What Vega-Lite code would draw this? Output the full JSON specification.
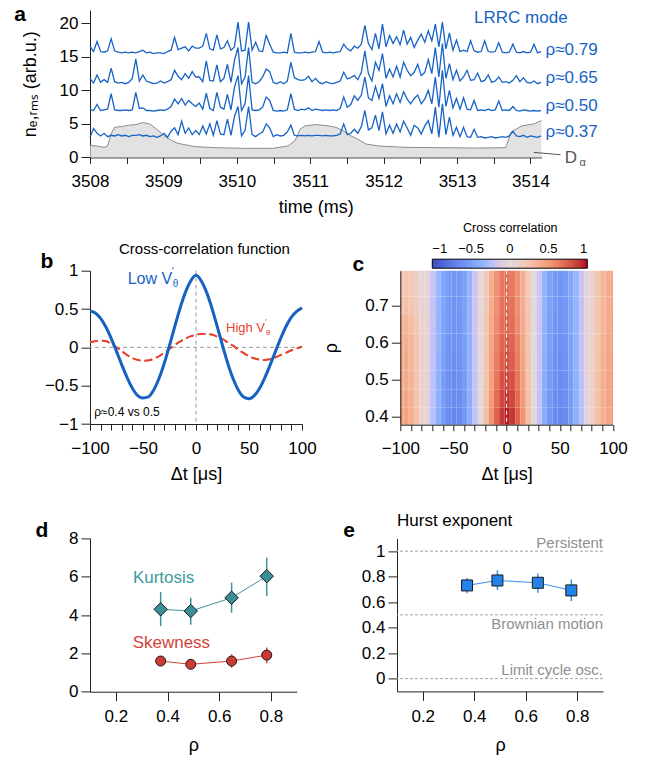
{
"$schema":"https://vega.github.io/schema/vega-lite/v6.json",
"padding":{"left":5,"top":0,"right":5,"bottom":3},
"background":"white",
"config":{"font":"Liberation Sans","view":{"stroke":null},
"axis":{"grid":false,"domainColor":"#222","tickColor":"#222","labelColor":"#000","titleColor":"#000","labelFontSize":17,"titleFontSize":18,"titleFontWeight":"normal","labelFlush":false,"labelOverlap":false,"labelBound":false,"tickSize":8,"labelFont":"Liberation Sans","titleFont":"Liberation Sans"},
"legend":{"labelFont":"Liberation Sans","titleFont":"Liberation Sans"},
"text":{"font":"Liberation Sans"}},
"datasets":{
"tr":[
{"t":3508.000,"a":3.0,"b":7.2,"c":11.8,"d":16.6},{"t":3508.048,"a":4.3,"b":7.0,"c":11.1,"d":15.8},{"t":3508.096,"a":3.6,"b":7.9,"c":12.3,"d":17.3},{"t":3508.144,"a":3.2,"b":7.0,"c":11.2,"d":15.8},{"t":3508.192,"a":3.6,"b":7.1,"c":11.6,"d":15.7},{"t":3508.240,"a":3.1,"b":7.2,"c":11.2,"d":15.9},{"t":3508.288,"a":3.3,"b":9.5,"c":13.3,"d":17.7},{"t":3508.336,"a":3.2,"b":7.1,"c":11.3,"d":15.9},{"t":3508.384,"a":3.4,"b":7.0,"c":11.1,"d":15.7},{"t":3508.432,"a":3.2,"b":7.0,"c":11.2,"d":15.6},{"t":3508.480,"a":3.3,"b":7.1,"c":11.0,"d":15.7},{"t":3508.528,"a":3.1,"b":7.0,"c":11.2,"d":15.6},{"t":3508.576,"a":3.3,"b":7.1,"c":11.8,"d":15.7},{"t":3508.624,"a":3.3,"b":9.7,"c":14.7,"d":15.6},{"t":3508.672,"a":3.4,"b":7.3,"c":11.4,"d":15.8},{"t":3508.720,"a":3.2,"b":7.4,"c":12.3,"d":16.0},{"t":3508.768,"a":3.3,"b":7.0,"c":11.4,"d":15.6},{"t":3508.816,"a":3.1,"b":7.0,"c":11.2,"d":15.7},{"t":3508.864,"a":3.2,"b":6.9,"c":11.0,"d":15.5},{"t":3508.912,"a":3.0,"b":7.0,"c":11.1,"d":15.6},
{"t":3508.960,"a":3.2,"b":7.1,"c":11.4,"d":15.6},{"t":3509.008,"a":3.6,"b":7.0,"c":11.1,"d":15.5},{"t":3509.056,"a":3.0,"b":7.2,"c":11.3,"d":15.8},{"t":3509.104,"a":3.9,"b":7.6,"c":11.6,"d":16.0},{"t":3509.152,"a":4.4,"b":8.7,"c":13.0,"d":17.9},{"t":3509.200,"a":3.4,"b":8.0,"c":12.1,"d":16.1},{"t":3509.248,"a":5.4,"b":8.8,"c":11.6,"d":16.3},{"t":3509.296,"a":3.6,"b":7.8,"c":12.5,"d":16.5},{"t":3509.344,"a":4.4,"b":8.5,"c":11.8,"d":15.9},{"t":3509.392,"a":3.4,"b":8.0,"c":12.8,"d":16.6},{"t":3509.440,"a":4.0,"b":7.6,"c":12.0,"d":16.3},{"t":3509.488,"a":3.4,"b":8.1,"c":12.0,"d":16.3},{"t":3509.536,"a":4.7,"b":7.2,"c":11.3,"d":16.6},{"t":3509.584,"a":3.5,"b":9.6,"c":14.4,"d":18.5},{"t":3509.632,"a":5.0,"b":7.3,"c":11.5,"d":16.2},{"t":3509.680,"a":3.3,"b":7.0,"c":11.4,"d":16.0},{"t":3509.728,"a":5.5,"b":9.7,"c":13.8,"d":18.3},{"t":3509.776,"a":3.5,"b":7.5,"c":11.3,"d":16.2},{"t":3509.824,"a":3.4,"b":7.2,"c":11.8,"d":16.4},{"t":3509.872,"a":5.7,"b":9.4,"c":13.9,"d":17.4},
{"t":3509.920,"a":3.3,"b":7.1,"c":11.2,"d":16.0},{"t":3509.968,"a":6.1,"b":10.5,"c":14.5,"d":16.5},{"t":3510.016,"a":7.6,"b":12.2,"c":16.4,"d":20.2},{"t":3510.064,"a":3.2,"b":7.0,"c":11.0,"d":15.9},{"t":3510.112,"a":4.0,"b":8.0,"c":12.0,"d":16.0},{"t":3510.160,"a":7.6,"b":12.2,"c":16.4,"d":20.2},{"t":3510.208,"a":3.4,"b":7.1,"c":11.2,"d":16.0},{"t":3510.256,"a":3.1,"b":7.0,"c":11.0,"d":17.2},{"t":3510.304,"a":3.5,"b":7.1,"c":11.3,"d":15.9},{"t":3510.352,"a":3.8,"b":7.5,"c":12.0,"d":15.8},{"t":3510.400,"a":5.0,"b":9.0,"c":13.2,"d":18.2},{"t":3510.448,"a":4.4,"b":8.5,"c":12.8,"d":16.9},{"t":3510.496,"a":3.1,"b":7.0,"c":11.2,"d":15.7},{"t":3510.544,"a":3.4,"b":6.9,"c":11.0,"d":15.6},{"t":3510.592,"a":3.2,"b":7.0,"c":11.3,"d":15.6},{"t":3510.640,"a":3.3,"b":6.9,"c":11.0,"d":15.7},{"t":3510.688,"a":3.8,"b":7.1,"c":11.4,"d":15.6},{"t":3510.736,"a":4.8,"b":9.5,"c":14.2,"d":18.5},{"t":3510.784,"a":3.3,"b":7.2,"c":11.9,"d":15.7},{"t":3510.832,"a":3.2,"b":7.0,"c":11.6,"d":15.6},
{"t":3510.880,"a":3.3,"b":7.2,"c":11.5,"d":15.6},{"t":3510.928,"a":3.2,"b":7.1,"c":11.6,"d":15.7},{"t":3510.976,"a":3.3,"b":7.4,"c":12.1,"d":15.6},{"t":3511.024,"a":3.2,"b":7.0,"c":11.3,"d":15.7},{"t":3511.072,"a":3.3,"b":7.2,"c":11.8,"d":15.8},{"t":3511.120,"a":3.3,"b":7.1,"c":11.2,"d":17.3},{"t":3511.168,"a":3.2,"b":7.0,"c":11.0,"d":15.7},{"t":3511.216,"a":3.3,"b":7.1,"c":11.3,"d":15.6},{"t":3511.264,"a":3.2,"b":7.0,"c":11.1,"d":15.7},{"t":3511.312,"a":3.2,"b":7.1,"c":11.0,"d":15.6},{"t":3511.360,"a":3.3,"b":7.0,"c":11.2,"d":15.7},{"t":3511.408,"a":3.5,"b":7.3,"c":11.4,"d":15.8},{"t":3511.456,"a":5.0,"b":9.0,"c":12.7,"d":16.9},{"t":3511.504,"a":3.4,"b":7.5,"c":11.7,"d":16.2},{"t":3511.552,"a":3.6,"b":7.9,"c":11.9,"d":15.9},{"t":3511.600,"a":4.2,"b":9.2,"c":12.2,"d":16.6},{"t":3511.648,"a":3.6,"b":8.5,"c":11.6,"d":16.3},{"t":3511.696,"a":4.6,"b":9.3,"c":12.7,"d":16.9},{"t":3511.744,"a":7.0,"b":12.0,"c":15.9,"d":19.7},{"t":3511.792,"a":4.1,"b":8.9,"c":12.5,"d":17.0},
{"t":3511.840,"a":4.4,"b":8.5,"c":11.4,"d":16.1},{"t":3511.888,"a":6.3,"b":10.6,"c":14.2,"d":18.5},{"t":3511.936,"a":4.0,"b":8.8,"c":13.0,"d":16.2},{"t":3511.984,"a":6.8,"b":11.0,"c":15.5,"d":19.9},{"t":3512.032,"a":3.5,"b":7.6,"c":11.8,"d":16.5},{"t":3512.080,"a":4.8,"b":9.2,"c":13.2,"d":18.2},{"t":3512.128,"a":3.6,"b":8.0,"c":12.0,"d":17.0},{"t":3512.176,"a":5.0,"b":9.5,"c":13.6,"d":18.0},{"t":3512.224,"a":3.8,"b":8.2,"c":12.0,"d":16.8},{"t":3512.272,"a":5.4,"b":9.8,"c":14.2,"d":19.0},{"t":3512.320,"a":4.4,"b":8.7,"c":13.0,"d":16.9},{"t":3512.368,"a":3.3,"b":8.0,"c":12.2,"d":17.9},{"t":3512.416,"a":4.8,"b":8.8,"c":12.7,"d":16.4},{"t":3512.464,"a":4.4,"b":9.3,"c":13.9,"d":17.5},{"t":3512.512,"a":3.5,"b":8.0,"c":12.2,"d":18.4},{"t":3512.560,"a":4.7,"b":8.7,"c":12.7,"d":17.2},{"t":3512.608,"a":5.5,"b":10.0,"c":14.6,"d":18.9},{"t":3512.656,"a":3.5,"b":8.0,"c":12.5,"d":17.4},{"t":3512.704,"a":7.5,"b":12.0,"c":16.4,"d":19.9},{"t":3512.752,"a":3.0,"b":7.5,"c":12.0,"d":16.5},
{"t":3512.800,"a":8.0,"b":13.0,"c":17.0,"d":20.2},{"t":3512.848,"a":3.4,"b":7.6,"c":11.8,"d":16.2},{"t":3512.896,"a":6.0,"b":10.0,"c":14.0,"d":18.6},{"t":3512.944,"a":3.3,"b":7.4,"c":11.6,"d":16.0},{"t":3512.992,"a":4.5,"b":8.8,"c":13.0,"d":17.5},{"t":3513.040,"a":3.1,"b":7.2,"c":11.4,"d":15.8},{"t":3513.088,"a":4.5,"b":8.9,"c":12.0,"d":16.0},{"t":3513.136,"a":3.1,"b":7.2,"c":13.0,"d":15.8},{"t":3513.184,"a":3.0,"b":7.1,"c":11.5,"d":17.4},{"t":3513.232,"a":4.2,"b":8.5,"c":11.6,"d":15.9},{"t":3513.280,"a":3.0,"b":7.0,"c":12.6,"d":15.7},{"t":3513.328,"a":3.1,"b":7.1,"c":11.3,"d":15.8},{"t":3513.376,"a":2.9,"b":7.0,"c":11.5,"d":17.4},{"t":3513.424,"a":3.0,"b":7.2,"c":12.3,"d":15.8},{"t":3513.472,"a":3.1,"b":7.0,"c":11.2,"d":15.7},{"t":3513.520,"a":2.9,"b":7.1,"c":11.4,"d":15.8},{"t":3513.568,"a":3.0,"b":8.4,"c":12.0,"d":17.1},{"t":3513.616,"a":3.1,"b":7.0,"c":11.2,"d":15.7},{"t":3513.664,"a":3.0,"b":7.1,"c":11.3,"d":15.6},{"t":3513.712,"a":3.2,"b":7.0,"c":11.1,"d":15.7},
{"t":3513.760,"a":3.9,"b":7.6,"c":11.5,"d":16.9},{"t":3513.808,"a":3.2,"b":7.0,"c":12.2,"d":15.7},{"t":3513.856,"a":3.1,"b":6.9,"c":11.3,"d":15.6},{"t":3513.904,"a":3.3,"b":7.1,"c":11.9,"d":15.8},{"t":3513.952,"a":3.0,"b":7.0,"c":11.2,"d":15.6},{"t":3514.000,"a":3.2,"b":6.9,"c":11.1,"d":15.7},{"t":3514.048,"a":3.1,"b":7.0,"c":11.4,"d":16.9},{"t":3514.096,"a":3.0,"b":6.9,"c":11.0,"d":15.6},{"t":3514.144,"a":3.2,"b":7.0,"c":11.2,"d":15.8}
],
"da":[
{"t":3508.000,"v":1.8},{"t":3508.096,"v":1.7},{"t":3508.191,"v":1.5},{"t":3508.239,"v":1.7},{"t":3508.287,"v":3.5},{"t":3508.335,"v":4.5},{"t":3508.430,"v":4.6},{"t":3508.526,"v":4.8},{"t":3508.622,"v":4.9},{"t":3508.717,"v":5.2},{"t":3508.813,"v":5.0},{"t":3508.909,"v":4.2},{"t":3509.004,"v":3.3},{"t":3509.100,"v":2.6},{"t":3509.196,"v":2.1},{"t":3509.291,"v":1.9},{"t":3509.435,"v":1.6},{"t":3509.722,"v":1.45},{"t":3510.104,"v":1.35},{"t":3510.487,"v":1.35},{"t":3510.697,"v":1.7},{"t":3510.793,"v":2.5},{"t":3510.860,"v":4.2},{"t":3510.927,"v":4.7},{"t":3511.080,"v":4.9},{"t":3511.252,"v":4.7},{"t":3511.347,"v":4.5},{"t":3511.443,"v":4.0},{"t":3511.539,"v":3.3},{"t":3511.634,"v":2.8},{"t":3511.759,"v":2.0},{"t":3511.931,"v":1.7},{"t":3512.304,"v":1.5},{"t":3512.782,"v":1.45},{"t":3513.260,"v":1.4},{"t":3513.662,"v":1.45},{"t":3513.738,"v":3.8},{"t":3513.882,"v":4.7},{"t":3514.045,"v":5.0},{"t":3514.150,"v":5.5}
],
"ccf":[
{"dt":-100,"low":0.475,"high":0.065},{"dt":-95,"low":0.449,"high":0.08},{"dt":-90,"low":0.378,"high":0.087},{"dt":-85,"low":0.265,"high":0.08},{"dt":-80,"low":0.117,"high":0.045},{"dt":-75,"low":-0.052,"high":0.0},{"dt":-70,"low":-0.228,"high":-0.05},{"dt":-65,"low":-0.394,"high":-0.10},{"dt":-60,"low":-0.533,"high":-0.14},{"dt":-55,"low":-0.629,"high":-0.165},{"dt":-50,"low":-0.66,"high":-0.175},{"dt":-45,"low":-0.647,"high":-0.17},{"dt":-40,"low":-0.559,"high":-0.15},{"dt":-35,"low":-0.41,"high":-0.115},{"dt":-30,"low":-0.21,"high":-0.07},{"dt":-25,"low":0.024,"high":-0.02},{"dt":-20,"low":0.273,"high":0.03},{"dt":-15,"low":0.512,"high":0.075},{"dt":-10,"low":0.717,"high":0.115},{"dt":-5,"low":0.866,"high":0.145},{"dt":0,"low":0.94,"high":0.165},{"dt":5,"low":0.866,"high":0.175},{"dt":10,"low":0.717,"high":0.175},{"dt":15,"low":0.512,"high":0.165},{"dt":20,"low":0.273,"high":0.14},{"dt":25,"low":0.024,"high":0.11},{"dt":30,"low":-0.21,"high":0.065},{"dt":35,"low":-0.41,"high":0.02},{"dt":40,"low":-0.559,"high":-0.03},{"dt":45,"low":-0.647,"high":-0.075},{"dt":50,"low":-0.669,"high":-0.115},{"dt":55,"low":-0.629,"high":-0.145},{"dt":60,"low":-0.533,"high":-0.16},{"dt":65,"low":-0.394,"high":-0.165},{"dt":70,"low":-0.228,"high":-0.155},{"dt":75,"low":-0.052,"high":-0.13},{"dt":80,"low":0.12,"high":-0.1},{"dt":85,"low":0.275,"high":-0.07},{"dt":90,"low":0.395,"high":-0.04},{"dt":95,"low":0.47,"high":-0.015},{"dt":100,"low":0.515,"high":0.01}
],
"hm":[
{"d":-102.5,"r":0.375,"v":0.48},{"d":-97.5,"r":0.375,"v":0.45},{"d":-92.5,"r":0.375,"v":0.38},{"d":-87.5,"r":0.375,"v":0.27},{"d":-82.5,"r":0.375,"v":0.12},{"d":-77.5,"r":0.375,"v":-0.05},{"d":-72.5,"r":0.375,"v":-0.23},{"d":-67.5,"r":0.375,"v":-0.39},{"d":-62.5,"r":0.375,"v":-0.53},{"d":-57.5,"r":0.375,"v":-0.63},{"d":-52.5,"r":0.375,"v":-0.67},{"d":-47.5,"r":0.375,"v":-0.65},{"d":-42.5,"r":0.375,"v":-0.56},{"d":-37.5,"r":0.375,"v":-0.41},{"d":-32.5,"r":0.375,"v":-0.21},{"d":-27.5,"r":0.375,"v":0.02},{"d":-22.5,"r":0.375,"v":0.28},{"d":-17.5,"r":0.375,"v":0.53},{"d":-12.5,"r":0.375,"v":0.74},{"d":-7.5,"r":0.375,"v":0.89},{"d":-2.5,"r":0.375,"v":0.97},{"d":2.5,"r":0.375,"v":0.89},{"d":7.5,"r":0.375,"v":0.74},{"d":12.5,"r":0.375,"v":0.53},{"d":17.5,"r":0.375,"v":0.28},{"d":22.5,"r":0.375,"v":0.02},{"d":27.5,"r":0.375,"v":-0.21},{"d":32.5,"r":0.375,"v":-0.41},{"d":37.5,"r":0.375,"v":-0.56},{"d":42.5,"r":0.375,"v":-0.65},{"d":47.5,"r":0.375,"v":-0.67},{"d":52.5,"r":0.375,"v":-0.63},{"d":57.5,"r":0.375,"v":-0.53},{"d":62.5,"r":0.375,"v":-0.39},{"d":67.5,"r":0.375,"v":-0.23},{"d":72.5,"r":0.375,"v":-0.05},{"d":77.5,"r":0.375,"v":0.12},{"d":82.5,"r":0.375,"v":0.27},{"d":87.5,"r":0.375,"v":0.38},{"d":92.5,"r":0.375,"v":0.45},{"d":97.5,"r":0.375,"v":0.48},
{"d":-102.5,"r":0.425,"v":0.45},{"d":-97.5,"r":0.425,"v":0.43},{"d":-92.5,"r":0.425,"v":0.36},{"d":-87.5,"r":0.425,"v":0.25},{"d":-82.5,"r":0.425,"v":0.11},{"d":-77.5,"r":0.425,"v":-0.05},{"d":-72.5,"r":0.425,"v":-0.22},{"d":-67.5,"r":0.425,"v":-0.38},{"d":-62.5,"r":0.425,"v":-0.52},{"d":-57.5,"r":0.425,"v":-0.61},{"d":-52.5,"r":0.425,"v":-0.65},{"d":-47.5,"r":0.425,"v":-0.63},{"d":-42.5,"r":0.425,"v":-0.54},{"d":-37.5,"r":0.425,"v":-0.40},{"d":-32.5,"r":0.425,"v":-0.20},{"d":-27.5,"r":0.425,"v":0.02},{"d":-22.5,"r":0.425,"v":0.26},{"d":-17.5,"r":0.425,"v":0.50},{"d":-12.5,"r":0.425,"v":0.70},{"d":-7.5,"r":0.425,"v":0.84},{"d":-2.5,"r":0.425,"v":0.91},{"d":2.5,"r":0.425,"v":0.84},{"d":7.5,"r":0.425,"v":0.70},{"d":12.5,"r":0.425,"v":0.50},{"d":17.5,"r":0.425,"v":0.26},{"d":22.5,"r":0.425,"v":0.02},{"d":27.5,"r":0.425,"v":-0.20},{"d":32.5,"r":0.425,"v":-0.40},{"d":37.5,"r":0.425,"v":-0.54},{"d":42.5,"r":0.425,"v":-0.63},{"d":47.5,"r":0.425,"v":-0.65},{"d":52.5,"r":0.425,"v":-0.61},{"d":57.5,"r":0.425,"v":-0.52},{"d":62.5,"r":0.425,"v":-0.38},{"d":67.5,"r":0.425,"v":-0.22},{"d":72.5,"r":0.425,"v":-0.05},{"d":77.5,"r":0.425,"v":0.12},{"d":82.5,"r":0.425,"v":0.27},{"d":87.5,"r":0.425,"v":0.38},{"d":92.5,"r":0.425,"v":0.45},{"d":97.5,"r":0.425,"v":0.48},
{"d":-102.5,"r":0.475,"v":0.43},{"d":-97.5,"r":0.475,"v":0.40},{"d":-92.5,"r":0.475,"v":0.34},{"d":-87.5,"r":0.475,"v":0.24},{"d":-82.5,"r":0.475,"v":0.11},{"d":-77.5,"r":0.475,"v":-0.05},{"d":-72.5,"r":0.475,"v":-0.22},{"d":-67.5,"r":0.475,"v":-0.37},{"d":-62.5,"r":0.475,"v":-0.51},{"d":-57.5,"r":0.475,"v":-0.60},{"d":-52.5,"r":0.475,"v":-0.64},{"d":-47.5,"r":0.475,"v":-0.61},{"d":-42.5,"r":0.475,"v":-0.53},{"d":-37.5,"r":0.475,"v":-0.39},{"d":-32.5,"r":0.475,"v":-0.20},{"d":-27.5,"r":0.475,"v":0.02},{"d":-22.5,"r":0.475,"v":0.25},{"d":-17.5,"r":0.475,"v":0.47},{"d":-12.5,"r":0.475,"v":0.66},{"d":-7.5,"r":0.475,"v":0.80},{"d":-2.5,"r":0.475,"v":0.86},{"d":2.5,"r":0.475,"v":0.80},{"d":7.5,"r":0.475,"v":0.66},{"d":12.5,"r":0.475,"v":0.47},{"d":17.5,"r":0.475,"v":0.25},{"d":22.5,"r":0.475,"v":0.02},{"d":27.5,"r":0.475,"v":-0.20},{"d":32.5,"r":0.475,"v":-0.39},{"d":37.5,"r":0.475,"v":-0.53},{"d":42.5,"r":0.475,"v":-0.61},{"d":47.5,"r":0.475,"v":-0.64},{"d":52.5,"r":0.475,"v":-0.60},{"d":57.5,"r":0.475,"v":-0.51},{"d":62.5,"r":0.475,"v":-0.37},{"d":67.5,"r":0.475,"v":-0.22},{"d":72.5,"r":0.475,"v":-0.05},{"d":77.5,"r":0.475,"v":0.12},{"d":82.5,"r":0.475,"v":0.27},{"d":87.5,"r":0.475,"v":0.38},{"d":92.5,"r":0.475,"v":0.45},{"d":97.5,"r":0.475,"v":0.48},
{"d":-102.5,"r":0.525,"v":0.42},{"d":-97.5,"r":0.525,"v":0.40},{"d":-92.5,"r":0.525,"v":0.33},{"d":-87.5,"r":0.525,"v":0.23},{"d":-82.5,"r":0.525,"v":0.11},{"d":-77.5,"r":0.525,"v":-0.05},{"d":-72.5,"r":0.525,"v":-0.21},{"d":-67.5,"r":0.525,"v":-0.36},{"d":-62.5,"r":0.525,"v":-0.49},{"d":-57.5,"r":0.525,"v":-0.58},{"d":-52.5,"r":0.525,"v":-0.62},{"d":-47.5,"r":0.525,"v":-0.60},{"d":-42.5,"r":0.525,"v":-0.51},{"d":-37.5,"r":0.525,"v":-0.38},{"d":-32.5,"r":0.525,"v":-0.19},{"d":-27.5,"r":0.525,"v":0.02},{"d":-22.5,"r":0.525,"v":0.24},{"d":-17.5,"r":0.525,"v":0.45},{"d":-12.5,"r":0.525,"v":0.63},{"d":-7.5,"r":0.525,"v":0.76},{"d":-2.5,"r":0.525,"v":0.83},{"d":2.5,"r":0.525,"v":0.76},{"d":7.5,"r":0.525,"v":0.63},{"d":12.5,"r":0.525,"v":0.45},{"d":17.5,"r":0.525,"v":0.24},{"d":22.5,"r":0.525,"v":0.02},{"d":27.5,"r":0.525,"v":-0.19},{"d":32.5,"r":0.525,"v":-0.38},{"d":37.5,"r":0.525,"v":-0.51},{"d":42.5,"r":0.525,"v":-0.60},{"d":47.5,"r":0.525,"v":-0.62},{"d":52.5,"r":0.525,"v":-0.58},{"d":57.5,"r":0.525,"v":-0.49},{"d":62.5,"r":0.525,"v":-0.36},{"d":67.5,"r":0.525,"v":-0.21},{"d":72.5,"r":0.525,"v":-0.05},{"d":77.5,"r":0.525,"v":0.11},{"d":82.5,"r":0.525,"v":0.26},{"d":87.5,"r":0.525,"v":0.37},{"d":92.5,"r":0.525,"v":0.44},{"d":97.5,"r":0.525,"v":0.47},
{"d":-102.5,"r":0.575,"v":0.40},{"d":-97.5,"r":0.575,"v":0.38},{"d":-92.5,"r":0.575,"v":0.32},{"d":-87.5,"r":0.575,"v":0.23},{"d":-82.5,"r":0.575,"v":0.10},{"d":-77.5,"r":0.575,"v":-0.05},{"d":-72.5,"r":0.575,"v":-0.21},{"d":-67.5,"r":0.575,"v":-0.35},{"d":-62.5,"r":0.575,"v":-0.48},{"d":-57.5,"r":0.575,"v":-0.57},{"d":-52.5,"r":0.575,"v":-0.60},{"d":-47.5,"r":0.575,"v":-0.58},{"d":-42.5,"r":0.575,"v":-0.50},{"d":-37.5,"r":0.575,"v":-0.37},{"d":-32.5,"r":0.575,"v":-0.19},{"d":-27.5,"r":0.575,"v":0.02},{"d":-22.5,"r":0.575,"v":0.23},{"d":-17.5,"r":0.575,"v":0.43},{"d":-12.5,"r":0.575,"v":0.60},{"d":-7.5,"r":0.575,"v":0.73},{"d":-2.5,"r":0.575,"v":0.79},{"d":2.5,"r":0.575,"v":0.73},{"d":7.5,"r":0.575,"v":0.60},{"d":12.5,"r":0.575,"v":0.43},{"d":17.5,"r":0.575,"v":0.23},{"d":22.5,"r":0.575,"v":0.02},{"d":27.5,"r":0.575,"v":-0.19},{"d":32.5,"r":0.575,"v":-0.37},{"d":37.5,"r":0.575,"v":-0.50},{"d":42.5,"r":0.575,"v":-0.58},{"d":47.5,"r":0.575,"v":-0.60},{"d":52.5,"r":0.575,"v":-0.57},{"d":57.5,"r":0.575,"v":-0.48},{"d":62.5,"r":0.575,"v":-0.35},{"d":67.5,"r":0.575,"v":-0.21},{"d":72.5,"r":0.575,"v":-0.05},{"d":77.5,"r":0.575,"v":0.11},{"d":82.5,"r":0.575,"v":0.25},{"d":87.5,"r":0.575,"v":0.36},{"d":92.5,"r":0.575,"v":0.43},{"d":97.5,"r":0.575,"v":0.45},
{"d":-102.5,"r":0.625,"v":0.36},{"d":-97.5,"r":0.625,"v":0.34},{"d":-92.5,"r":0.625,"v":0.28},{"d":-87.5,"r":0.625,"v":0.20},{"d":-82.5,"r":0.625,"v":0.09},{"d":-77.5,"r":0.625,"v":-0.05},{"d":-72.5,"r":0.625,"v":-0.20},{"d":-67.5,"r":0.625,"v":-0.35},{"d":-62.5,"r":0.625,"v":-0.47},{"d":-57.5,"r":0.625,"v":-0.55},{"d":-52.5,"r":0.625,"v":-0.59},{"d":-47.5,"r":0.625,"v":-0.57},{"d":-42.5,"r":0.625,"v":-0.49},{"d":-37.5,"r":0.625,"v":-0.36},{"d":-32.5,"r":0.625,"v":-0.18},{"d":-27.5,"r":0.625,"v":0.02},{"d":-22.5,"r":0.625,"v":0.22},{"d":-17.5,"r":0.625,"v":0.41},{"d":-12.5,"r":0.625,"v":0.57},{"d":-7.5,"r":0.625,"v":0.69},{"d":-2.5,"r":0.625,"v":0.75},{"d":2.5,"r":0.625,"v":0.69},{"d":7.5,"r":0.625,"v":0.57},{"d":12.5,"r":0.625,"v":0.41},{"d":17.5,"r":0.625,"v":0.22},{"d":22.5,"r":0.625,"v":0.02},{"d":27.5,"r":0.625,"v":-0.18},{"d":32.5,"r":0.625,"v":-0.36},{"d":37.5,"r":0.625,"v":-0.49},{"d":42.5,"r":0.625,"v":-0.57},{"d":47.5,"r":0.625,"v":-0.59},{"d":52.5,"r":0.625,"v":-0.55},{"d":57.5,"r":0.625,"v":-0.47},{"d":62.5,"r":0.625,"v":-0.35},{"d":67.5,"r":0.625,"v":-0.20},{"d":72.5,"r":0.625,"v":-0.05},{"d":77.5,"r":0.625,"v":0.11},{"d":82.5,"r":0.625,"v":0.24},{"d":87.5,"r":0.625,"v":0.35},{"d":92.5,"r":0.625,"v":0.41},{"d":97.5,"r":0.625,"v":0.44},
{"d":-102.5,"r":0.675,"v":0.29},{"d":-97.5,"r":0.675,"v":0.27},{"d":-92.5,"r":0.675,"v":0.23},{"d":-87.5,"r":0.675,"v":0.16},{"d":-82.5,"r":0.675,"v":0.07},{"d":-77.5,"r":0.675,"v":-0.04},{"d":-72.5,"r":0.675,"v":-0.20},{"d":-67.5,"r":0.675,"v":-0.34},{"d":-62.5,"r":0.675,"v":-0.46},{"d":-57.5,"r":0.675,"v":-0.54},{"d":-52.5,"r":0.675,"v":-0.58},{"d":-47.5,"r":0.675,"v":-0.56},{"d":-42.5,"r":0.675,"v":-0.48},{"d":-37.5,"r":0.675,"v":-0.35},{"d":-32.5,"r":0.675,"v":-0.18},{"d":-27.5,"r":0.675,"v":0.02},{"d":-22.5,"r":0.675,"v":0.21},{"d":-17.5,"r":0.675,"v":0.39},{"d":-12.5,"r":0.675,"v":0.55},{"d":-7.5,"r":0.675,"v":0.67},{"d":-2.5,"r":0.675,"v":0.72},{"d":2.5,"r":0.675,"v":0.67},{"d":7.5,"r":0.675,"v":0.55},{"d":12.5,"r":0.675,"v":0.39},{"d":17.5,"r":0.675,"v":0.21},{"d":22.5,"r":0.675,"v":0.02},{"d":27.5,"r":0.675,"v":-0.18},{"d":32.5,"r":0.675,"v":-0.35},{"d":37.5,"r":0.675,"v":-0.48},{"d":42.5,"r":0.675,"v":-0.56},{"d":47.5,"r":0.675,"v":-0.58},{"d":52.5,"r":0.675,"v":-0.54},{"d":57.5,"r":0.675,"v":-0.46},{"d":62.5,"r":0.675,"v":-0.34},{"d":67.5,"r":0.675,"v":-0.20},{"d":72.5,"r":0.675,"v":-0.04},{"d":77.5,"r":0.675,"v":0.11},{"d":82.5,"r":0.675,"v":0.24},{"d":87.5,"r":0.675,"v":0.34},{"d":92.5,"r":0.675,"v":0.40},{"d":97.5,"r":0.675,"v":0.43},
{"d":-102.5,"r":0.725,"v":0.25},{"d":-97.5,"r":0.725,"v":0.23},{"d":-92.5,"r":0.725,"v":0.20},{"d":-87.5,"r":0.725,"v":0.14},{"d":-82.5,"r":0.725,"v":0.06},{"d":-77.5,"r":0.725,"v":-0.04},{"d":-72.5,"r":0.725,"v":-0.19},{"d":-67.5,"r":0.725,"v":-0.33},{"d":-62.5,"r":0.725,"v":-0.45},{"d":-57.5,"r":0.725,"v":-0.53},{"d":-52.5,"r":0.725,"v":-0.57},{"d":-47.5,"r":0.725,"v":-0.55},{"d":-42.5,"r":0.725,"v":-0.48},{"d":-37.5,"r":0.725,"v":-0.35},{"d":-32.5,"r":0.725,"v":-0.18},{"d":-27.5,"r":0.725,"v":0.02},{"d":-22.5,"r":0.725,"v":0.20},{"d":-17.5,"r":0.725,"v":0.38},{"d":-12.5,"r":0.725,"v":0.54},{"d":-7.5,"r":0.725,"v":0.65},{"d":-2.5,"r":0.725,"v":0.71},{"d":2.5,"r":0.725,"v":0.65},{"d":7.5,"r":0.725,"v":0.54},{"d":12.5,"r":0.725,"v":0.38},{"d":17.5,"r":0.725,"v":0.20},{"d":22.5,"r":0.725,"v":0.02},{"d":27.5,"r":0.725,"v":-0.18},{"d":32.5,"r":0.725,"v":-0.35},{"d":37.5,"r":0.725,"v":-0.48},{"d":42.5,"r":0.725,"v":-0.55},{"d":47.5,"r":0.725,"v":-0.57},{"d":52.5,"r":0.725,"v":-0.53},{"d":57.5,"r":0.725,"v":-0.45},{"d":62.5,"r":0.725,"v":-0.33},{"d":67.5,"r":0.725,"v":-0.19},{"d":72.5,"r":0.725,"v":-0.04},{"d":77.5,"r":0.725,"v":0.10},{"d":82.5,"r":0.725,"v":0.23},{"d":87.5,"r":0.725,"v":0.33},{"d":92.5,"r":0.725,"v":0.40},{"d":97.5,"r":0.725,"v":0.42},
{"d":-102.5,"r":0.775,"v":0.24},{"d":-97.5,"r":0.775,"v":0.22},{"d":-92.5,"r":0.775,"v":0.19},{"d":-87.5,"r":0.775,"v":0.13},{"d":-82.5,"r":0.775,"v":0.05},{"d":-77.5,"r":0.775,"v":-0.04},{"d":-72.5,"r":0.775,"v":-0.19},{"d":-67.5,"r":0.775,"v":-0.33},{"d":-62.5,"r":0.775,"v":-0.45},{"d":-57.5,"r":0.775,"v":-0.53},{"d":-52.5,"r":0.775,"v":-0.56},{"d":-47.5,"r":0.775,"v":-0.55},{"d":-42.5,"r":0.775,"v":-0.48},{"d":-37.5,"r":0.775,"v":-0.35},{"d":-32.5,"r":0.775,"v":-0.18},{"d":-27.5,"r":0.775,"v":0.02},{"d":-22.5,"r":0.775,"v":0.20},{"d":-17.5,"r":0.775,"v":0.37},{"d":-12.5,"r":0.775,"v":0.53},{"d":-7.5,"r":0.775,"v":0.64},{"d":-2.5,"r":0.775,"v":0.70},{"d":2.5,"r":0.775,"v":0.64},{"d":7.5,"r":0.775,"v":0.53},{"d":12.5,"r":0.775,"v":0.37},{"d":17.5,"r":0.775,"v":0.20},{"d":22.5,"r":0.775,"v":0.02},{"d":27.5,"r":0.775,"v":-0.18},{"d":32.5,"r":0.775,"v":-0.35},{"d":37.5,"r":0.775,"v":-0.48},{"d":42.5,"r":0.775,"v":-0.55},{"d":47.5,"r":0.775,"v":-0.56},{"d":52.5,"r":0.775,"v":-0.53},{"d":57.5,"r":0.775,"v":-0.45},{"d":62.5,"r":0.775,"v":-0.33},{"d":67.5,"r":0.775,"v":-0.19},{"d":72.5,"r":0.775,"v":-0.04},{"d":77.5,"r":0.775,"v":0.10},{"d":82.5,"r":0.775,"v":0.23},{"d":87.5,"r":0.775,"v":0.33},{"d":92.5,"r":0.775,"v":0.39},{"d":97.5,"r":0.775,"v":0.42}
],
"kurt":[{"r":0.3735,"v":4.30,"lo":3.43,"hi":5.2},{"r":0.49,"v":4.21,"lo":3.5,"hi":4.9},{"r":0.648,"v":4.9,"lo":4.12,"hi":5.69},{"r":0.784,"v":6.03,"lo":4.99,"hi":6.99}],
"skew":[{"r":0.3735,"v":1.6,"lo":1.34,"hi":1.86},{"r":0.49,"v":1.43,"lo":1.17,"hi":1.69},{"r":0.648,"v":1.6,"lo":1.25,"hi":1.95},{"r":0.784,"v":1.91,"lo":1.48,"hi":2.3}],
"hurst":[{"r":0.372,"v":0.731,"lo":0.67,"hi":0.79},{"r":0.49,"v":0.77,"lo":0.695,"hi":0.85},{"r":0.647,"v":0.752,"lo":0.674,"hi":0.825},{"r":0.777,"v":0.692,"lo":0.608,"hi":0.778}]
},
"spacing":-4.3,
"resolve":{"scale":{"color":"independent"},"legend":{"color":"independent"}},
"vconcat":[
{"width":451.5,"height":147.4,
"resolve":{"axis":{"x":"independent","y":"independent"}},
"layer":[
{"data":{"name":"da"},"mark":{"type":"area","color":"#d6d6d6","line":{"color":"#8c8c8c","strokeWidth":1}},
"encoding":{"x":{"field":"t","type":"quantitative","scale":{"domain":[3508,3514.15],"nice":false,"zero":false},
"axis":{"orient":"bottom","values":[3508,3508.5,3509,3509.5,3510,3510.5,3511,3511.5,3512,3512.5,3513,3513.5,3514],"labelExpr":"datum.value % 1 === 0 ? format(datum.value,'d') : ''","title":"time (ms)","tickSize":6,"labelPadding":10,"titlePadding":9,"labelOverlap":false}},
"y":{"field":"v","type":"quantitative","scale":{"domain":[0,22],"nice":false},"axis":{"orient":"left","values":[0,5,10,15,20],"title":"nₑ,ᵣₘₛ (arb.u.)","tickSize":9,"labelPadding":3,"titlePadding":20,"labelOverlap":false}}}},
{"data":{"name":"tr"},"transform":[{"fold":["a","b","c","d"],"as":["s","v"]}],
"mark":{"type":"line","color":"#1763c6","strokeWidth":1.3},
"encoding":{"x":{"field":"t","type":"quantitative","axis":null},"y":{"field":"v","type":"quantitative","axis":null},"detail":{"field":"s"}}},
{"data":{"values":[{"t":3514.15,"y":16.1,"label":"ρ≈0.79"},{"t":3514.15,"y":11.9,"label":"ρ≈0.65"},{"t":3514.15,"y":7.6,"label":"ρ≈0.50"},{"t":3514.15,"y":3.8,"label":"ρ≈0.37"}]},
"mark":{"type":"text","align":"left","baseline":"middle","fontSize":17,"color":"#1763c6","dx":4},
"encoding":{"x":{"field":"t","type":"quantitative","axis":null},"y":{"field":"y","type":"quantitative","axis":null},"text":{"field":"label"}}},
{"data":{"values":[{}]},"mark":{"type":"text","text":"LRRC mode","align":"left","baseline":"middle","fontSize":17,"color":"#1763c6"},"encoding":{"x":{"datum":3513.232,"axis":null},"y":{"datum":20.8,"axis":null}}},
{"data":{"values":[{}]},"mark":{"type":"rule","color":"#555","strokeWidth":1},"encoding":{"x":{"datum":3514.046,"axis":null},"x2":{"datum":3514.409},"y":{"datum":0.75,"axis":null},"y2":{"datum":0.4}}},
{"data":{"values":[{}]},"mark":{"type":"text","text":"D","align":"left","baseline":"middle","fontSize":17,"color":"#555"},"encoding":{"x":{"datum":3514.466,"axis":null},"y":{"datum":-0.1,"axis":null}}},
{"data":{"values":[{}]},"mark":{"type":"text","text":"α","align":"left","baseline":"middle","fontSize":11,"color":"#555"},"encoding":{"x":{"datum":3514.667,"axis":null},"y":{"datum":-0.9,"axis":null}}},
{"data":{"values":[{}]},"mark":{"type":"text","text":"a","align":"center","baseline":"middle","fontSize":21,"fontWeight":"bold","dx":-70,"dy":5},"encoding":{"x":{"datum":3508,"axis":null},"y":{"datum":22,"axis":null}}},
{"data":{"values":[{}]},"mark":{"type":"text","text":".","fontSize":2,"opacity":0,"align":"left","baseline":"middle","dx":-85,"dy":-9},"encoding":{"x":{"datum":3508,"axis":null},"y":{"datum":22,"axis":null}}},
{"data":{"values":[{}]},"mark":{"type":"text","text":".","fontSize":2,"opacity":0,"align":"left","baseline":"middle","dx":-85,"dy":64},"encoding":{"x":{"datum":3508,"axis":null},"y":{"datum":0,"axis":null}}}
]},
{"hconcat":[
{"width":212,"height":153.3,
"resolve":{"axis":{"x":"independent","y":"independent"}},
"layer":[
{"data":{"name":"ccf"},"mark":{"type":"line","color":"#e5432e","strokeWidth":1.8,"strokeDash":[8,4],"interpolate":"monotone"},
"encoding":{"x":{"field":"dt","type":"quantitative","scale":{"domain":[-100,100],"nice":false},"axis":{"orient":"bottom","values":[-100,-90,-80,-70,-60,-50,-40,-30,-20,-10,0,10,20,30,40,50,60,70,80,90,100],"labelExpr":"datum.value % 50 === 0 ? format(datum.value,'d') : ''","title":"Δt [μs]","tickSize":6,"labelPadding":10,"titlePadding":9,"labelOverlap":false}},
"y":{"field":"high","type":"quantitative","scale":{"domain":[-1,1],"nice":false},"axis":{"orient":"left","values":[-1,-0.5,0,0.5,1],"labelExpr":"format(datum.value,'')","title":null,"tickSize":9,"labelPadding":3,"labelOverlap":false}}}},
{"data":{"values":[{}]},"mark":{"type":"rule","color":"#9a9a9a","strokeDash":[4,3],"strokeWidth":1},"encoding":{"y":{"datum":0,"axis":null}}},
{"data":{"values":[{}]},"mark":{"type":"rule","color":"#9a9a9a","strokeDash":[4,3],"strokeWidth":1},"encoding":{"x":{"datum":0,"axis":null}}},
{"data":{"name":"ccf"},"mark":{"type":"line","color":"#e5432e","strokeWidth":1.8,"strokeDash":[8,4],"interpolate":"monotone"},"encoding":{"x":{"field":"dt","type":"quantitative","axis":null},"y":{"field":"high","type":"quantitative","axis":null}}},
{"data":{"name":"ccf"},"mark":{"type":"line","color":"#1662c3","strokeWidth":3,"interpolate":"monotone"},"encoding":{"x":{"field":"dt","type":"quantitative","axis":null},"y":{"field":"low","type":"quantitative","axis":null}}},
{"data":{"values":[{}]},"mark":{"type":"text","text":"Low V","align":"left","baseline":"alphabetic","fontSize":16,"color":"#1662c3"},"encoding":{"x":{"datum":-64.5,"axis":null},"y":{"datum":0.826,"axis":null}}},
{"data":{"values":[{}]},"mark":{"type":"text","text":"′","align":"left","baseline":"alphabetic","fontSize":11,"color":"#1662c3","dx":44,"dy":-9},"encoding":{"x":{"datum":-64.5,"axis":null},"y":{"datum":0.826,"axis":null}}},
{"data":{"values":[{}]},"mark":{"type":"text","text":"θ","align":"left","baseline":"alphabetic","fontSize":10,"color":"#1662c3","dx":45,"dy":3},"encoding":{"x":{"datum":-64.5,"axis":null},"y":{"datum":0.826,"axis":null}}},
{"data":{"values":[{}]},"mark":{"type":"text","text":"High V","align":"left","baseline":"alphabetic","fontSize":13,"color":"#e5432e"},"encoding":{"x":{"datum":28.3,"axis":null},"y":{"datum":0.204,"axis":null}}},
{"data":{"values":[{}]},"mark":{"type":"text","text":"′","align":"left","baseline":"alphabetic","fontSize":9,"color":"#e5432e","dx":39,"dy":-7},"encoding":{"x":{"datum":28.3,"axis":null},"y":{"datum":0.204,"axis":null}}},
{"data":{"values":[{}]},"mark":{"type":"text","text":"θ","align":"left","baseline":"alphabetic","fontSize":8,"color":"#e5432e","dx":40,"dy":3},"encoding":{"x":{"datum":28.3,"axis":null},"y":{"datum":0.204,"axis":null}}},
{"data":{"values":[{}]},"mark":{"type":"text","text":"ρ≈0.4 vs 0.5","align":"left","baseline":"alphabetic","fontSize":12,"color":"#000"},"encoding":{"x":{"datum":-96,"axis":null},"y":{"datum":-0.89,"axis":null}}},
{"data":{"values":[{}]},"mark":{"type":"text","text":"Cross-correlation function","align":"center","baseline":"middle","fontSize":15,"color":"#000","dy":-22},"encoding":{"x":{"datum":8,"axis":null},"y":{"datum":1,"axis":null}}},
{"data":{"values":[{}]},"mark":{"type":"text","text":"b","align":"center","baseline":"middle","fontSize":21,"fontWeight":"bold","dx":-43,"dy":-9},"encoding":{"x":{"datum":-100,"axis":null},"y":{"datum":1,"axis":null}}},
{"data":{"values":[{}]},"mark":{"type":"text","text":".","fontSize":2,"opacity":0,"align":"left","baseline":"middle","dx":-85,"dy":-51},"encoding":{"x":{"datum":-100,"axis":null},"y":{"datum":1,"axis":null}}},
{"data":{"values":[{}]},"mark":{"type":"text","text":".","fontSize":2,"opacity":0,"align":"left","baseline":"middle","dx":-85,"dy":63},"encoding":{"x":{"datum":-100,"axis":null},"y":{"datum":-1,"axis":null}}}
]},
{"width":212.7,"height":154,
"layer":[
{"data":{"name":"hm"},"mark":{"type":"rect","clip":true},
"encoding":{"x":{"field":"d","type":"quantitative","bin":{"binned":true,"step":5},"scale":{"domain":[-100,100],"nice":false},"axis":{"values":[-100,-90,-80,-70,-60,-50,-40,-30,-20,-10,0,10,20,30,40,50,60,70,80,90,100],"labelExpr":"datum.value % 50 === 0 ? format(datum.value,'d') : ''","title":"Δt [μs]","tickSize":6,"labelPadding":10,"titlePadding":9,"labelOverlap":false}},
"y":{"field":"r","type":"quantitative","bin":{"binned":true,"step":0.05},"scale":{"domain":[0.378,0.793],"nice":false,"zero":false},"axis":{"values":[0.4,0.5,0.6,0.7],"format":".1f","title":"ρ","tickSize":9,"labelPadding":3,"titlePadding":24,"labelOverlap":false}},
"color":{"field":"v","type":"quantitative","scale":{"domain":[-1,-0.75,-0.5,-0.25,0,0.25,0.5,0.75,1],"range":["#3b4cc0","#5d7ce6","#7b9ff9","#a5c3fe","#dddcdc","#f4c4ab","#f49a7b","#de604d","#b40426"]},
"legend":{"orient":"none","legendX":32,"legendY":-49,"direction":"horizontal","gradientLength":155,"gradientThickness":9,"title":"Cross correlation","titleFontSize":12.5,"titleFontWeight":"normal","titleAnchor":"middle","titlePadding":25,"labelFontSize":13,"labelOffset":-25,"labelAlign":"center","format":".1~f","values":[-1,-0.5,0,0.5,1],"gradientStrokeColor":"#000","gradientStrokeWidth":1,"labelColor":"#000","titleColor":"#000"}}}},
{"data":{"values":[{}]},"mark":{"type":"rule","color":"white","strokeDash":[4,3],"strokeWidth":1},"encoding":{"x":{"datum":0}}},
{"data":{"values":[{}]},"mark":{"type":"text","text":"c","align":"center","baseline":"middle","fontSize":21,"fontWeight":"bold","dx":-42,"dy":-6},"encoding":{"x":{"datum":-100},"y":{"datum":0.793}}}
]}
],"spacing":98.3,"bounds":"flush","resolve":{"scale":{"color":"independent"},"legend":{"color":"independent"}}},
{"hconcat":[
{"width":206.7,"height":153.3,
"resolve":{"axis":{"x":"independent","y":"independent"}},
"layer":[
{"data":{"name":"kurt"},"mark":{"type":"line","color":"#3d949b","strokeWidth":1},
"encoding":{"x":{"field":"r","type":"quantitative","scale":{"domain":[0.1,0.9],"nice":false,"zero":false},"axis":{"orient":"bottom","values":[0.2,0.4,0.6,0.8],"format":".1f","title":"ρ","tickSize":9,"labelPadding":8,"titlePadding":12,"labelOverlap":false}},
"y":{"field":"v","type":"quantitative","scale":{"domain":[0,8],"nice":false},"axis":{"orient":"left","values":[0,2,4,6,8],"title":null,"tickSize":9,"labelPadding":3,"labelOverlap":false}}}},
{"data":{"name":"kurt"},"mark":{"type":"rule","color":"#3d949b","strokeWidth":1.5},"encoding":{"x":{"field":"r","type":"quantitative","axis":null},"y":{"field":"lo","type":"quantitative","axis":null},"y2":{"field":"hi"}}},
{"data":{"name":"kurt"},"mark":{"type":"point","shape":"diamond","filled":true,"size":180,"fill":"#3a8f96","stroke":"#1a1a1a","strokeWidth":1,"opacity":1},"encoding":{"x":{"field":"r","type":"quantitative","axis":null},"y":{"field":"v","type":"quantitative","axis":null}}},
{"data":{"name":"skew"},"mark":{"type":"line","color":"#d2433b","strokeWidth":1},"encoding":{"x":{"field":"r","type":"quantitative","axis":null},"y":{"field":"v","type":"quantitative","axis":null}}},
{"data":{"name":"skew"},"mark":{"type":"rule","color":"#d2433b","strokeWidth":1.5},"encoding":{"x":{"field":"r","type":"quantitative","axis":null},"y":{"field":"lo","type":"quantitative","axis":null},"y2":{"field":"hi"}}},
{"data":{"name":"skew"},"mark":{"type":"point","shape":"circle","filled":true,"size":100,"fill":"#cc3a33","stroke":"#1a1a1a","strokeWidth":1,"opacity":1},"encoding":{"x":{"field":"r","type":"quantitative","axis":null},"y":{"field":"v","type":"quantitative","axis":null}}},
{"data":{"values":[{}]},"mark":{"type":"text","text":"Kurtosis","align":"left","baseline":"middle","fontSize":17,"color":"#3d9aa0"},"encoding":{"x":{"datum":0.266,"axis":null},"y":{"datum":5.95,"axis":null}}},
{"data":{"values":[{}]},"mark":{"type":"text","text":"Skewness","align":"left","baseline":"middle","fontSize":17,"color":"#d2433b"},"encoding":{"x":{"datum":0.265,"axis":null},"y":{"datum":2.52,"axis":null}}},
{"data":{"values":[{}]},"mark":{"type":"text","text":"d","align":"center","baseline":"middle","fontSize":21,"fontWeight":"bold","dx":-48,"dy":-7},"encoding":{"x":{"datum":0.1,"axis":null},"y":{"datum":8,"axis":null}}},
{"data":{"values":[{}]},"mark":{"type":"text","text":".","fontSize":2,"opacity":0,"align":"left","baseline":"middle","dx":-85,"dy":-52.5},"encoding":{"x":{"datum":0.1,"axis":null},"y":{"datum":8,"axis":null}}}
]},
{"width":206,"height":153,
"resolve":{"axis":{"x":"independent","y":"independent"}},
"layer":[
{"data":{"name":"hurst"},"mark":{"type":"line","color":"#3a8ef0","strokeWidth":1},
"encoding":{"x":{"field":"r","type":"quantitative","scale":{"domain":[0.1,0.9],"nice":false,"zero":false},"axis":{"orient":"bottom","values":[0.2,0.4,0.6,0.8],"format":".1f","title":"ρ","tickSize":9,"labelPadding":8,"titlePadding":12,"labelOverlap":false}},
"y":{"field":"v","type":"quantitative","scale":{"domain":[-0.1,1.1],"nice":false,"zero":false},"axis":{"orient":"left","values":[0,0.2,0.4,0.6,0.8,1],"labelExpr":"format(datum.value,'')","title":null,"tickSize":9,"labelPadding":3,"labelOverlap":false}}}},
{"data":{"values":[{"y":1},{"y":0.5},{"y":0}]},"mark":{"type":"rule","color":"#a0a0a0","strokeDash":[3,2],"strokeWidth":1},
"encoding":{"y":{"field":"y","type":"quantitative","axis":null}}},
{"data":{"values":[{}]},"mark":{"type":"text","text":"Persistent","align":"right","baseline":"middle","fontSize":15,"color":"#8f8f8f"},"encoding":{"x":{"datum":0.9,"axis":null},"y":{"datum":1.066,"axis":null}}},
{"data":{"values":[{}]},"mark":{"type":"text","text":"Brownian motion","align":"right","baseline":"middle","fontSize":15,"color":"#8f8f8f"},"encoding":{"x":{"datum":0.9,"axis":null},"y":{"datum":0.425,"axis":null}}},
{"data":{"values":[{}]},"mark":{"type":"text","text":"Limit cycle osc.","align":"right","baseline":"middle","fontSize":15,"color":"#8f8f8f"},"encoding":{"x":{"datum":0.9,"axis":null},"y":{"datum":0.067,"axis":null}}},
{"data":{"name":"hurst"},"mark":{"type":"rule","color":"#3a8ef0","strokeWidth":1.5},"encoding":{"x":{"field":"r","type":"quantitative","axis":null},"y":{"field":"lo","type":"quantitative","axis":null},"y2":{"field":"hi"}}},
{"data":{"name":"hurst"},"mark":{"type":"point","shape":"square","filled":true,"size":121,"fill":"#2582e8","stroke":"#1a1a1a","strokeWidth":1,"opacity":1},"encoding":{"x":{"field":"r","type":"quantitative","axis":null},"y":{"field":"v","type":"quantitative","axis":null}}},
{"data":{"values":[{}]},"mark":{"type":"text","text":"Hurst exponent","align":"left","baseline":"middle","fontSize":17,"color":"#000","dy":-17},"encoding":{"x":{"datum":0.1,"axis":null},"y":{"datum":1.1,"axis":null}}},
{"data":{"values":[{}]},"mark":{"type":"text","text":"e","align":"center","baseline":"middle","fontSize":21,"fontWeight":"bold","dx":-48,"dy":-7},"encoding":{"x":{"datum":0.1,"axis":null},"y":{"datum":1.1,"axis":null}}}
]}
],"spacing":100,"bounds":"flush"}
]
}
